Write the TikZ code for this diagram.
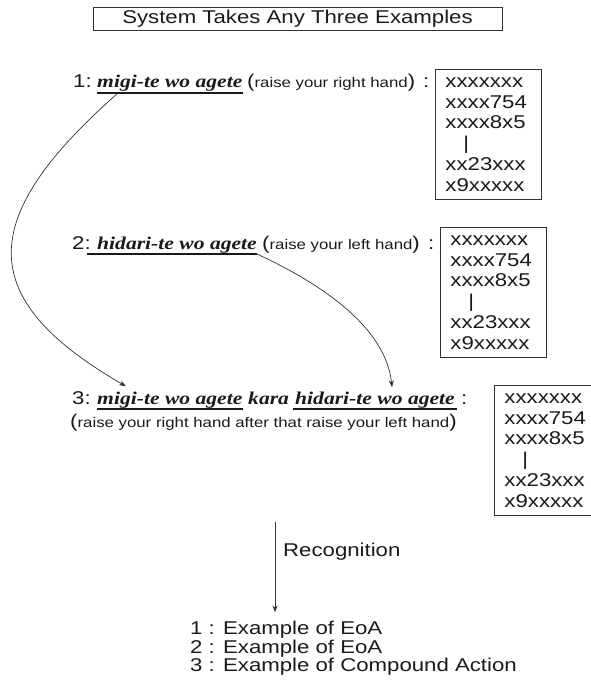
\documentclass[tikz,border=0pt]{standalone}
\usepackage{fontspec}
\setmainfont{Liberation Sans}[FakeStretch=1.2]
\newfontfamily\jpfont{Liberation Serif}[FakeStretch=1.2]
\usetikzlibrary{arrows.meta}
\definecolor{ink}{HTML}{1A1A1A}
\definecolor{edge}{HTML}{3A3030}
\newcommand{\mainsz}{\fontsize{18.5}{20.8}\selectfont}
\newcommand{\smallsz}{\fontsize{14}{16}\selectfont}
\newcommand{\jpsz}{\jpfont\bfseries\itshape\fontsize{18}{20}\selectfont}
\begin{document}
\begin{tikzpicture}[x=1pt, y=-1pt,
  every node/.style={inner sep=0pt, text=ink},
  lbl/.style={font=\mainsz, anchor=base west},
  jp/.style={font=\jpsz, anchor=base west},
  ul/.style={draw=ink, line width=2.6pt},
  conn/.style={draw=edge, line width=0.7pt, -{Stealth[length=7pt,width=5pt]}},
  databox/.style={draw=edge, line width=0.9pt, align=left, text width=86pt,
    inner xsep=10pt, inner ysep=0pt, minimum height=130pt, anchor=north west, font=\mainsz},
  titlebox/.style={draw=edge, line width=0.9pt, minimum width=409pt, minimum height=23pt, font=\mainsz}]
\useasboundingbox (0,0) rectangle (591,682);
\clip (0,0) rectangle (591,682);

% title
\node[titlebox] (title) at (297.5,18.5) {System Takes Any Three Examples};

% example 1
\node[lbl] (n1) at (73,88) {1:};
\node[jp] (m1) at (97,88) {migi-te wo agete};
\node[lbl] (p1) at (247,88) {(\smallsz raise your right hand\mainsz)};
\node[lbl] (c1) at (423,88) {:};
\node[databox] (b1) at (435,69) {xxxxxxx\\xxxx754\\xxxx8x5\\\hspace*{18pt}|\\xx23xxx\\x9xxxxx};
\draw[ul] ([yshift=-1pt]m1.south west) -- ([yshift=-1pt]m1.south east);

% example 2
\node[lbl] (n2) at (72,249) {2:};
\node[jp] (m2) at (97,249) {hidari-te wo agete};
\node[lbl] (p2) at (262,249) {(\smallsz raise your left hand\mainsz)};
\node[lbl] (c2) at (428,249) {:};
\node[databox] (b2) at (440,227) {xxxxxxx\\xxxx754\\xxxx8x5\\\hspace*{18pt}|\\xx23xxx\\x9xxxxx};
\draw[ul] ([xshift=-10pt,yshift=-1pt]m2.south west) -- ([yshift=-1pt]m2.south east);

% example 3
\node[lbl] (n3) at (72,404) {3:};
\node[jp] (m3a) at (97,404) {migi-te wo agete};
\node[jp] (k3) at (248,404) {kara};
\node[jp] (m3b) at (295,404) {hidari-te wo agete};
\node[lbl] (c3) at (461,404) {:};
\node[lbl] (p3) at (70,427) {(\smallsz raise your right hand after that raise your left hand\mainsz)};
\node[databox] (b3) at (494,385) {xxxxxxx\\xxxx754\\xxxx8x5\\\hspace*{18pt}|\\xx23xxx\\x9xxxxx};
\draw[ul] ([yshift=-1pt]m3a.south west) -- ([yshift=-1pt]m3a.south east);
\draw[ul] ([xshift=-2pt,yshift=-1pt]m3b.south west) -- ([xshift=2pt,yshift=-1pt]m3b.south east);

% curved connectors
\draw[conn] ([xshift=21pt,yshift=-1pt]m1.south west) .. controls (-25,219) and (-25,299) .. ([xshift=29pt,yshift=5pt]m3a.north west);
\draw[conn] ([yshift=-1pt]m2.south east) .. controls (320,283) and (386,327) .. ([xshift=97pt,yshift=4pt]m3b.north west);

% recognition
\coordinate (rtop) at (275,522);
\node[lbl] (rec) at (283,556) {Recognition};
\node[lbl] (r1) at (190,634) {1 : Example of EoA};
\node[lbl] (r2) at (190,653) {2 : Example of EoA};
\node[lbl] (r3) at (190,671) {3 : Example of Compound Action};
\draw[conn, line width=0.8pt, shorten >=8pt] (rtop) -- (rtop |- r1.north);
\end{tikzpicture}
\end{document}
